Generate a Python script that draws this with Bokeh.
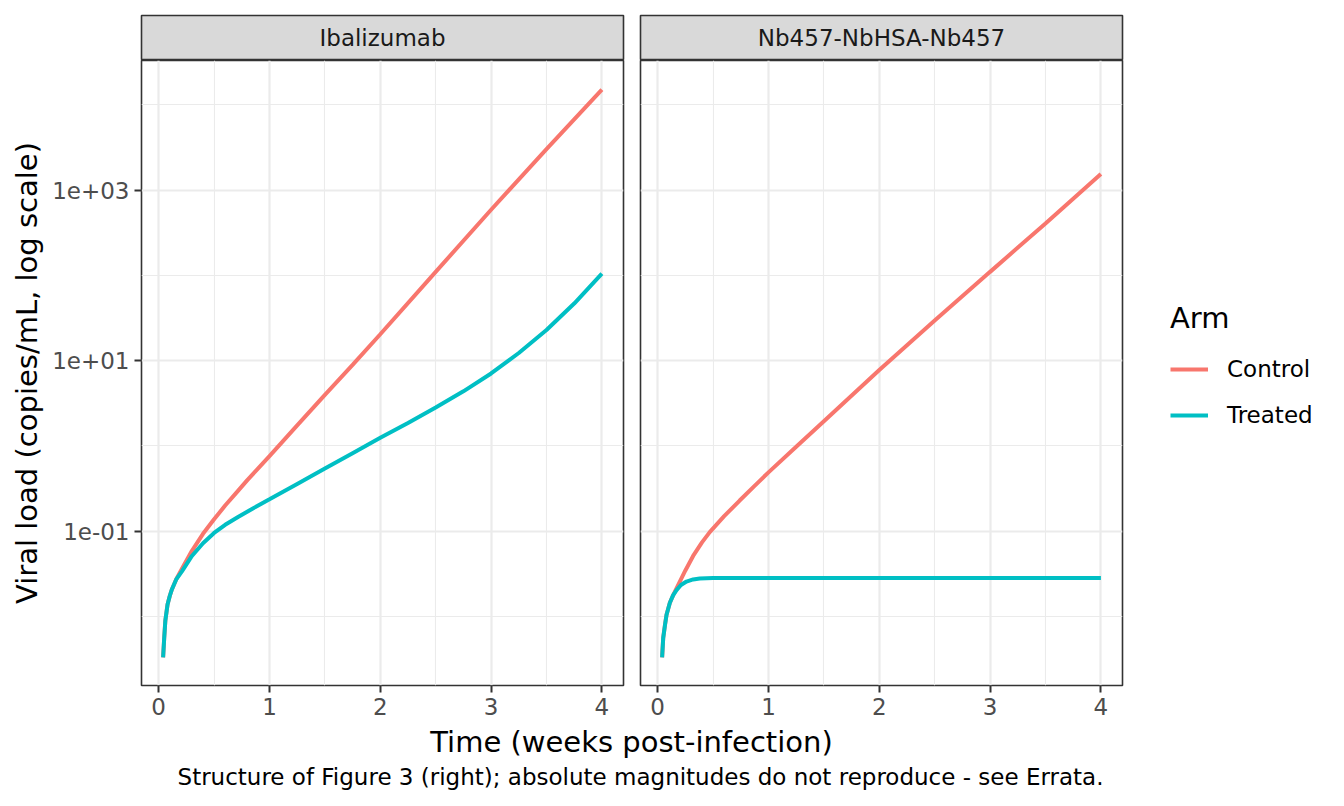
from bokeh.embed import file_html
from bokeh.layouts import column, row
from bokeh.models import (CustomJSTickFormatter, FixedTicker, Label, Legend,
                          LegendItem, Range1d)
from bokeh.plotting import figure
from bokeh.resources import INLINE

FONT = "DejaVu Sans"
COLORS = {"Control": "#F8766D", "Treated": "#00BFC4"}
GRID = "#EBEBEB"
BORDER = "#333333"

PANELS = ["Ibalizumab", "Nb457-NbHSA-Nb457"]
ARMS = ["Control", "Treated"]

# time in weeks post-infection, viral load in copies/mL
iba_control_t = [0.04, 0.05, 0.06, 0.08, 0.10, 0.12, 0.16, 0.21, 0.30, 0.40,
                 0.50, 0.60, 0.70, 0.80, 0.90, 1.0, 1.25, 1.5, 1.75, 2.0, 2.5,
                 3.0, 3.5, 4.0]
iba_control_vl = [0.00331, 0.00562, 0.00891, 0.0138, 0.0174, 0.0209, 0.0275,
                  0.0363, 0.0589, 0.0933, 0.138, 0.200, 0.282, 0.398, 0.550,
                  0.759, 1.74, 3.98, 8.91, 20.4, 110, 589, 3020, 15100]

iba_treated_t = [0.04, 0.05, 0.06, 0.08, 0.10, 0.12, 0.16, 0.21, 0.30, 0.40,
                 0.50, 0.60, 0.72, 0.85, 1.0, 1.25, 1.5, 1.75, 2.0, 2.25, 2.5,
                 2.75, 3.0, 3.25, 3.5, 3.75, 4.0]
iba_treated_vl = [0.00331, 0.00562, 0.00891, 0.0138, 0.0174, 0.0209, 0.0275,
                  0.0339, 0.0513, 0.0724, 0.0955, 0.119, 0.148, 0.185, 0.237,
                  0.359, 0.543, 0.822, 1.245, 1.86, 2.82, 4.37, 7.08, 12.3,
                  22.9, 46.8, 105]

nb_control_t = [0.04, 0.05, 0.066, 0.08, 0.11, 0.14, 0.17, 0.20, 0.25, 0.32,
                0.40, 0.47, 0.60, 0.74, 0.87, 1.0, 1.25, 1.5, 2.0, 2.5, 3.0,
                3.5, 4.0]
nb_control_vl = [0.00331, 0.00562, 0.00794, 0.0105, 0.0145, 0.0178, 0.0214,
                 0.0257, 0.0347, 0.0513, 0.0741, 0.0977, 0.150, 0.229, 0.336,
                 0.490, 0.977, 1.95, 7.76, 29.5, 110, 407, 1550]

nb_treated_t = [0.04, 0.05, 0.066, 0.08, 0.11, 0.14, 0.17, 0.21, 0.26, 0.32,
                0.38, 0.50, 0.60, 1.0, 2.0, 3.0, 4.0]
nb_treated_vl = [0.00331, 0.00562, 0.00794, 0.0105, 0.0145, 0.0178, 0.0204,
                 0.0234, 0.0257, 0.0272, 0.0279, 0.0282, 0.0283, 0.0283,
                 0.0283, 0.0283, 0.0283]

SERIES = {
    "Ibalizumab": {"Control": (iba_control_t, iba_control_vl),
                   "Treated": (iba_treated_t, iba_treated_vl)},
    "Nb457-NbHSA-Nb457": {"Control": (nb_control_t, nb_control_vl),
                          "Treated": (nb_treated_t, nb_treated_vl)},
}

X_TICKS = [0, 1, 2, 3, 4]
X_MINOR = [0.5, 1.5, 2.5, 3.5]
Y_TICKS = [1e-1, 1e1, 1e3]
Y_MINOR = [1e-2, 1e0, 1e2, 1e4]

X_LIMITS = (-0.155, 4.195)
Y_LIMITS = (10 ** -2.809, 10 ** 4.52)

Y_FORMAT = CustomJSTickFormatter(code="""
const e = Math.round(Math.log10(tick));
return "1e" + (e < 0 ? "-" : "+") + String(Math.abs(e)).padStart(2, "0");
""")


def _blank(width, height, **kw):
    f = figure(width=width, height=height, x_range=Range1d(0, 1), y_range=Range1d(0, 1),
               x_axis_location=None, y_axis_location=None,
               toolbar_location=None, tools="", output_backend="svg", **kw)
    f.grid.visible = False
    return f


def _strip(text, width, left, right):
    s = _blank(width, 60, min_border_left=left, min_border_right=right,
               min_border_top=15, min_border_bottom=0,
               background_fill_color="#D9D9D9", border_fill_color="white",
               outline_line_color=BORDER, outline_line_width=1.6)
    s.add_layout(Label(x=0.5, y=0.5, text=text, text_align="center",
                       text_baseline="middle", text_font=FONT,
                       text_font_size="23px", text_color="#1A1A1A"))
    return s


def _panel(name, width, left, right, show_y):
    p = figure(width=width, height=665,
               x_range=Range1d(*X_LIMITS), y_range=Range1d(*Y_LIMITS),
               y_axis_type="log",
               y_axis_location="left" if show_y else None,
               min_border_left=left, min_border_right=right,
               min_border_top=0, min_border_bottom=40,
               outline_line_color=BORDER, outline_line_width=1.6,
               toolbar_location=None, tools="", output_backend="svg")

    xt = FixedTicker(ticks=X_TICKS, minor_ticks=X_MINOR)
    yt = FixedTicker(ticks=Y_TICKS, minor_ticks=Y_MINOR)
    p.xaxis.ticker = xt
    p.xgrid.ticker = xt
    p.ygrid.ticker = yt
    if show_y:
        p.yaxis.ticker = yt
        p.yaxis.formatter = Y_FORMAT
        p.yaxis.axis_label = "Viral load (copies/mL, log scale)"
        p.yaxis.axis_label_standoff = 5

    for ax in p.axis:
        ax.axis_line_color = None
        ax.major_tick_in = 0
        ax.major_tick_out = 7
        ax.major_tick_line_color = BORDER
        ax.major_tick_line_width = 2
        ax.minor_tick_line_color = None
        ax.major_label_text_font = FONT
        ax.major_label_text_font_size = "23px"
        ax.major_label_text_color = "#4D4D4D"
        ax.major_label_standoff = 5
        ax.axis_label_text_font = FONT
        ax.axis_label_text_font_size = "29px"
        ax.axis_label_text_font_style = "normal"
        ax.axis_label_text_color = "black"

    p.grid.grid_line_color = GRID
    p.grid.grid_line_width = 2.2
    p.grid.minor_grid_line_color = GRID
    p.grid.minor_grid_line_width = 1.1

    for arm in ARMS:
        t, vl = SERIES[name][arm]
        p.line(t, vl, line_color=COLORS[arm], line_width=4)
    return p


# left facet frame spans page x 142..624, right facet 640..1122
strip_l = _strip(PANELS[0], 631, 141, 8)
panel_l = _panel(PANELS[0], 631, 141, 8, True)
strip_r = _strip(PANELS[1], 499, 9, 8)
panel_r = _panel(PANELS[1], 499, 9, 8, False)

# legend column: key samples only (NaN placeholders draw nothing in the plot)
key = _blank(206, 725, min_border_left=0, min_border_right=0,
             min_border_top=0, min_border_bottom=0, outline_line_color=None)
key_items = []
for arm in ARMS:
    r = key.line(x=[float("nan")], y=[float("nan")],
                 line_color=COLORS[arm], line_width=4)
    key_items.append(LegendItem(label=arm, renderers=[r]))
legend = Legend(
    items=key_items, location=(40, 290), title="Arm",
    title_text_font=FONT, title_text_font_size="29px",
    title_text_font_style="normal", title_text_color="black",
    title_standoff=14,
    label_text_font=FONT, label_text_font_size="23px", label_text_color="black",
    label_standoff=19, glyph_width=38, glyph_height=40, label_height=40,
    spacing=6, padding=0, margin=0,
    border_line_color=None, background_fill_alpha=0,
)
key.add_layout(legend)

bottom = _blank(1336, 73, min_border_left=0, min_border_right=0,
                min_border_top=0, min_border_bottom=0, outline_line_color=None)
bottom.add_layout(Label(x=631, y=57, x_units="screen", y_units="screen",
                        text="Time (weeks post-infection)", text_align="center",
                        text_baseline="alphabetic", text_font=FONT,
                        text_font_size="29px", text_color="black"))
bottom.add_layout(Label(x=640, y=22, x_units="screen", y_units="screen",
                        text="Structure of Figure 3 (right); absolute magnitudes "
                             "do not reproduce - see Errata.",
                        text_align="center", text_baseline="alphabetic",
                        text_font=FONT, text_font_size="23px", text_color="black"))

layout = column(row(column(strip_l, panel_l), column(strip_r, panel_r), key), bottom)

open("out.html", "w").write(file_html(layout, INLINE))
